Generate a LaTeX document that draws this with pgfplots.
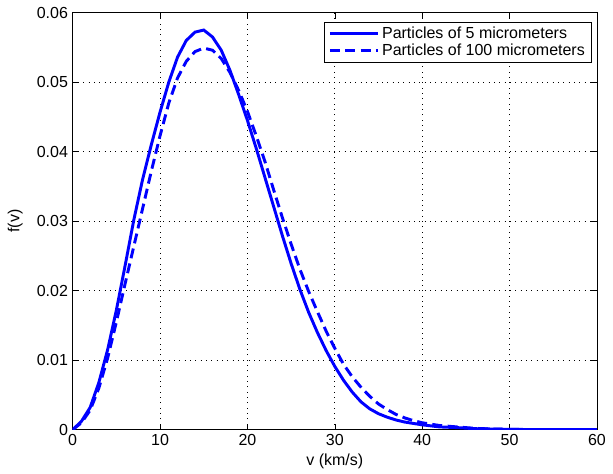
\documentclass[border=0pt]{standalone}
\usepackage{fontspec}
\setmainfont{Liberation Sans}
\usepackage{pgfplots}
\pgfplotsset{compat=1.18}
\begin{document}
\begin{tikzpicture}
\begin{axis}[
  at={(0,0)}, anchor=south west,
  scale only axis,
  width=393.2pt, height=312.75pt,
  xmin=0, xmax=60, ymin=0, ymax=0.06,
  xtick={0,10,...,60},
  ytick={0,0.01,0.02,0.03,0.04,0.05,0.06},
  scaled y ticks=false,
  /pgf/number format/assume math mode=true,
  yticklabel style={/pgf/number format/fixed,/pgf/number format/precision=2},
  tick label style={font=\fontsize{12}{14}\selectfont},
  label style={font=\fontsize{12}{14}\selectfont},
  tick align=inside,
  major tick length=4.5pt,
  tick style={black, line width=0.5pt},
  axis line style={line width=0.6pt},
  grid=major,
  major grid style={black, line width=0.6pt, dash pattern=on 0.6pt off 3.4pt},
  xlabel={v (km/s)},
  ylabel={f(v)},
  xlabel style={at={([yshift=-24pt]axis description cs:0.5,0)}, anchor=center},
  ylabel style={at={([xshift=-43pt]axis description cs:0,0.5)}, anchor=center, rotate=0},
  legend style={at={([xshift=-3.8pt,yshift=-6.8pt]axis description cs:1,1)}, anchor=north east,
    font=\fontsize{12}{14}\selectfont, draw=black, line width=0.6pt, inner xsep=3pt, inner ysep=1.5pt,
    row sep=-1.5pt},
  legend cell align=left,
  legend image code/.code={\draw[#1] (0pt,0pt) -- (36pt,0pt);},
]
\addplot[blue, line width=2.2pt] coordinates {
(0,0) (1,0.0012) (2,0.0032) (3,0.0068) (4,0.0115) (5,0.0172) (6,0.0236) (7,0.0302)
(8,0.0360) (9,0.0410) (10,0.0457) (11,0.0500) (12,0.0536) (13,0.0560) (14,0.0572)
(15,0.0575) (16,0.0565) (17,0.0546) (18,0.0517) (19,0.0482) (20,0.0445) (21,0.0405)
(22,0.0363) (23,0.0321) (24,0.0279) (25,0.0239) (26,0.0202) (27,0.0169) (28,0.0140)
(29,0.0114) (30,0.0091) (31,0.0071) (32,0.0054) (33,0.0040) (34,0.0030) (35,0.0023)
(36,0.0018) (37,0.0014) (38,0.0011) (39,0.0009) (40,0.0007) (42,0.0004) (44,0.0003)
(46,0.00015) (48,0.0001) (50,0.00005) (55,0) (60,0)
};
\addlegendentry{Particles of 5 micrometers}
\addplot[blue, line width=2.2pt, dash pattern=on 7.5pt off 4pt] coordinates {
(0,0) (1,0.0010) (2,0.0028) (3,0.0060) (4,0.0103) (5,0.0155) (6,0.0210) (7,0.0264)
(8,0.0318) (9,0.0372) (10,0.0423) (11,0.0470) (12,0.0506) (13,0.0530) (14,0.0544)
(15,0.0549) (16,0.0546) (17,0.0534) (18,0.0514) (19,0.0488) (20,0.0458) (21,0.0423)
(22,0.0386) (23,0.0345) (24,0.0305) (25,0.0267) (26,0.0231) (27,0.0199) (28,0.0170)
(29,0.0142) (30,0.0117) (31,0.0094) (32,0.0076) (33,0.0061) (34,0.0048) (35,0.0037)
(36,0.0029) (37,0.0022) (38,0.0017) (39,0.0013) (40,0.0010) (42,0.0006) (44,0.0004)
(46,0.0002) (48,0.0001) (50,0.00005) (55,0) (60,0)
};
\addlegendentry{Particles of 100 micrometers}
\end{axis}
\pgfresetboundingbox
\path (-54.5pt,-32.5pt) rectangle (405.2pt,322.25pt);
\end{tikzpicture}
\end{document}
